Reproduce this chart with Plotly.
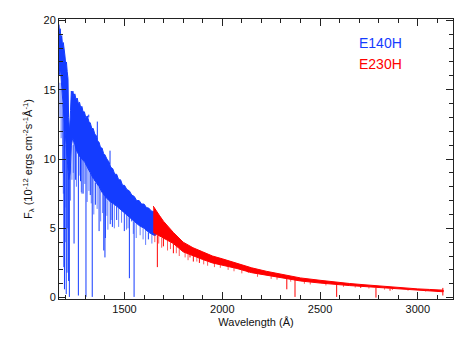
import plotly.graph_objects as go

BLUE = "rgb(20,60,255)"
RED = "rgb(255,0,0)"

# E140H band: upper edge and lower edge of the noisy flux (1e-12 ergs cm-2 s-1 A-1)
e140_top_wl = [1165, 1168, 1171, 1175, 1179, 1183, 1187, 1191, 1195, 1199, 1203, 1207,
               1211, 1214, 1219, 1224, 1228, 1232, 1236, 1241, 1246, 1252, 1258, 1264,
               1270, 1276, 1282, 1288, 1295, 1302, 1310, 1318, 1325, 1333, 1340, 1348,
               1355, 1363, 1370, 1378, 1385, 1393, 1400, 1410, 1420, 1430, 1440, 1450,
               1460, 1470, 1480, 1490, 1500, 1512, 1525, 1537, 1550, 1562, 1575, 1587,
               1600, 1612, 1625, 1637, 1650, 1660]
e140_top = [19.7, 19.0, 19.4, 18.7, 18.9, 18.2, 18.4, 17.6, 17.5, 16.9, 17.0, 16.3,
            15.8, 13.0, 12.0, 13.5, 14.9, 14.7, 14.9, 14.5, 14.7, 14.3, 14.4, 14.0,
            14.1, 13.7, 13.8, 13.4, 13.4, 13.0, 13.1, 12.7, 12.6, 12.2, 12.2, 11.8,
            11.7, 11.3, 11.2, 10.8, 10.8, 10.4, 10.3, 10.0, 9.8, 9.4, 9.3, 8.9,
            8.9, 8.5, 8.5, 8.1, 8.1, 7.8, 7.7, 7.4, 7.3, 7.0, 7.0, 6.75,
            6.75, 6.5, 6.45, 6.25, 6.2, 6.1]
e140_bot_wl = [1165, 1172, 1180, 1188, 1196, 1204, 1210, 1215, 1222, 1228, 1235, 1245,
               1258, 1270, 1282, 1295, 1310, 1325, 1340, 1355, 1370, 1385, 1400, 1420,
               1440, 1460, 1480, 1500, 1525, 1550, 1575, 1600, 1625, 1650, 1660]
e140_bot = [16.0, 16.5, 15.2, 13.5, 12.0, 10.5, 9.5, 8.5, 9.0, 11.0, 11.5, 11.0,
            10.5, 10.2, 10.0, 9.8, 9.4, 9.0, 8.6, 8.3, 8.0, 7.6, 7.3, 7.0,
            6.8, 6.6, 6.4, 6.1, 5.8, 5.5, 5.2, 5.0, 4.7, 4.5, 4.5]

# E140H strong absorption lines / spikes: wavelength, flux at band, flux reached
e140_line_wl = [1190, 1193, 1202, 1206, 1214, 1218, 1242, 1250, 1264, 1275, 1283,
                1303, 1317, 1325, 1335, 1351, 1361, 1370, 1394, 1400, 1402, 1426,
                1427, 1438, 1460, 1499, 1525, 1537, 1549, 1622]
e140_line_from = [14.0, 13.0, 11.0, 10.5, 9.0, 9.0, 11.0, 11.0, 10.4, 10.2, 10.0,
                  9.7, 13.0, 9.0, 8.9, 8.3, 11.4, 8.0, 7.4, 7.3, 7.3, 9.6,
                  7.0, 6.9, 6.6, 6.1, 5.8, 5.7, 5.5, 4.7]
e140_line_to = [2.2, 0.6, 0.25, 1.8, 1.2, 0.05, 3.9, 8.5, 0.15, 8.4, 7.5,
                0.05, 13.2, 7.4, 0.05, 6.7, 12.7, 4.8, 3.4, 2.9, 4.3, 10.6,
                5.3, 5.1, 5.6, 4.8, 1.4, 5.5, 0.05, 4.2]

# E140H weak lines below the band
e140_weak_wl = [1170, 1176, 1183, 1187, 1197, 1199, 1209, 1224, 1231, 1238, 1254, 1268,
                1279, 1290, 1297, 1309, 1318, 1330, 1343, 1360, 1378, 1388, 1410, 1415,
                1432, 1448, 1470, 1485, 1510, 1518, 1545, 1560, 1580, 1595, 1608, 1640]
e140_weak_from = [15.5, 15.0, 14.0, 13.5, 12.0, 11.5, 9.5, 9.5, 11.0, 11.3, 10.8, 10.3,
                  10.0, 9.9, 9.7, 9.4, 9.2, 8.8, 8.5, 8.2, 7.8, 7.5, 7.1, 7.0,
                  6.9, 6.7, 6.5, 6.3, 6.0, 5.9, 5.5, 5.4, 5.2, 5.0, 4.9, 4.6]
e140_weak_to = [13.0, 11.5, 9.0, 7.5, 4.0, 6.5, 5.0, 7.0, 8.5, 9.0, 8.0, 8.8,
                7.6, 7.5, 8.2, 6.9, 7.7, 6.8, 6.0, 6.4, 5.5, 6.1, 5.9, 4.9,
                5.6, 5.0, 5.1, 5.4, 4.9, 5.0, 4.6, 4.3, 4.5, 4.2, 3.8, 3.9]

# E230H band
e230_wl = [1647, 1660, 1680, 1700, 1750, 1800, 1850, 1900, 1950, 2000, 2075, 2150,
           2225, 2300, 2400, 2500, 2575, 2650, 2725, 2800, 2900, 3000, 3060, 3130]
e230_top = [6.6, 6.3, 5.9, 5.5, 4.7, 4.0, 3.6, 3.3, 3.0, 2.8, 2.45, 2.15,
            1.9, 1.7, 1.42, 1.25, 1.12, 1.02, 0.93, 0.84, 0.73, 0.63, 0.59, 0.54]
e230_bot = [4.7, 4.6, 4.4, 4.3, 3.9, 3.3, 3.0, 2.75, 2.5, 2.35, 2.1, 1.8,
            1.6, 1.45, 1.2, 1.05, 0.95, 0.87, 0.8, 0.7, 0.6, 0.52, 0.48, 0.42]

e230_line_wl = [1668, 1699, 1750, 1835, 1852, 1883, 2133, 2330, 2372, 2585, 2708,
                2786, 2858, 3128]
e230_line_from = [4.5, 4.3, 3.9, 3.4, 3.1, 3.0, 2.0, 1.45, 1.4, 0.95, 0.85,
                  0.7, 0.62, 0.7]
e230_line_to = [2.2, 3.7, 3.2, 2.9, 2.6, 2.5, 1.8, 0.6, 0.05, 0.05, 0.7,
                0.0, 0.5, 0.15]

e230_weak_wl = [1655, 1675, 1690, 1720, 1735, 1765, 1780, 1810, 1825, 1870, 1905, 1925,
                1960, 1990, 2030, 2060, 2100, 2180, 2250, 2280, 2350, 2420, 2450, 2530,
                2620, 2680, 2750, 2830, 2870, 2950, 3040, 3100]
e230_weak_from = [4.6, 4.5, 4.3, 4.1, 4.0, 3.8, 3.5, 3.3, 3.2, 2.9, 2.75, 2.6,
                  2.5, 2.4, 2.25, 2.15, 2.0, 1.7, 1.55, 1.5, 1.33, 1.18, 1.12, 1.0,
                  0.9, 0.83, 0.76, 0.68, 0.64, 0.57, 0.5, 0.46]
e230_weak_to = [4.0, 3.9, 3.6, 3.4, 3.5, 3.2, 3.0, 2.9, 2.7, 2.6, 2.4, 2.3,
                2.2, 2.15, 2.0, 1.9, 1.75, 1.5, 1.35, 1.3, 1.15, 1.0, 0.95, 0.88,
                0.78, 0.73, 0.66, 0.58, 0.55, 0.5, 0.44, 0.4]


def band(wl_top, top, wl_bot, bot, color):
    return go.Scatter(x=wl_top + wl_bot[::-1], y=top + bot[::-1], mode="lines",
                      fill="toself", fillcolor=color, line=dict(color=color, width=1),
                      hoverinfo="skip")


def lines(wl, y0, y1, color, opacity=1.0):
    xs, ys = [], []
    for w, a, b in zip(wl, y0, y1):
        xs += [w, w, None]
        ys += [a, b, None]
    return go.Scatter(x=xs, y=ys, mode="lines", line=dict(color=color, width=1),
                      opacity=opacity, hoverinfo="skip")


fig = go.Figure()
fig.add_trace(band(e140_top_wl, e140_top, e140_bot_wl, e140_bot, BLUE))
fig.add_trace(lines(e140_weak_wl, e140_weak_from, e140_weak_to, BLUE, 0.65))
fig.add_trace(lines(e140_line_wl, e140_line_from, e140_line_to, BLUE))
fig.add_trace(band(e230_wl, e230_top, e230_wl, e230_bot, RED))
fig.add_trace(lines(e230_weak_wl, e230_weak_from, e230_weak_to, RED, 0.65))
fig.add_trace(lines(e230_line_wl, e230_line_from, e230_line_to, RED))

fig.add_annotation(x=0.756, y=0.916, xref="paper", yref="paper", text="E140H",
                   showarrow=False, xanchor="left", yanchor="middle",
                   font=dict(color=BLUE, size=14))
fig.add_annotation(x=0.756, y=0.841, xref="paper", yref="paper", text="E230H",
                   showarrow=False, xanchor="left", yanchor="middle",
                   font=dict(color=RED, size=14))

axis = dict(showline=True, linecolor="#222", linewidth=1, mirror="allticks",
            ticks="inside", ticklen=7, tickcolor="#222", showgrid=False, zeroline=False,
            automargin=False, tickfont=dict(size=11, color="#111"))
fig.update_xaxes(range=[1165, 3180], dtick=500, tick0=1000,
                 minor=dict(ticks="inside", dtick=100, ticklen=4, tickcolor="#222"),
                 title=dict(text="Wavelength (Å)", font=dict(size=11, color="#111"), standoff=4),
                 **axis)
fig.update_yaxes(range=[-0.1, 20.1], dtick=5,
                 minor=dict(ticks="inside", dtick=1, ticklen=4, tickcolor="#222"),
                 title=dict(text="F<sub>λ</sub> (10<sup>-12</sup> ergs cm<sup>-2</sup>s<sup>-1</sup>Å<sup>-1</sup>)",
                            font=dict(size=11, color="#111"), standoff=8),
                 **axis)
# the page body adds an 8 px offset, so the figure is sized for the rest of the window
fig.update_layout(width=463, height=329, showlegend=False,
                  margin=dict(l=51, r=18, t=10.5, b=37.7),
                  paper_bgcolor="white", plot_bgcolor="white",
                  font=dict(family="Liberation Sans, Arial, sans-serif"))
fig.write_html("out.html")
